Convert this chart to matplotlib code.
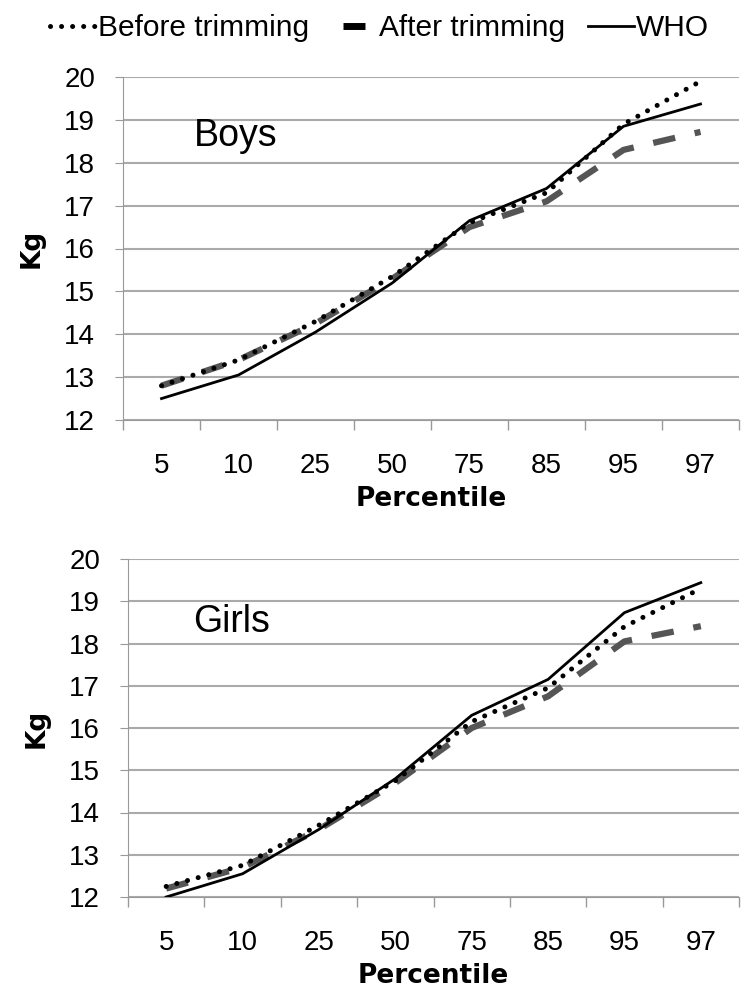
import matplotlib.pyplot as plt
from matplotlib.lines import Line2D

# Percentile categories
percentiles = ['5', '10', '25', '50', '75', '85', '95', '97']

# Boys weight (kg)
boys_before = [12.8, 13.4, 14.3, 15.35, 16.6, 17.3, 18.9, 19.9]
boys_after = [12.8, 13.4, 14.25, 15.3, 16.5, 17.1, 18.3, 18.72]
boys_who = [12.5, 13.05, 14.05, 15.2, 16.65, 17.4, 18.85, 19.37]

# Girls weight (kg)
girls_before = [12.25, 12.75, 13.7, 14.75, 16.15, 16.95, 18.4, 19.3]
girls_after = [12.2, 12.7, 13.6, 14.7, 16.0, 16.75, 18.05, 18.41]
girls_who = [12.0, 12.55, 13.6, 14.8, 16.3, 17.15, 18.73, 19.44]

plt.rcParams['font.family'] = ['Liberation Sans', 'DejaVu Sans']

fig = plt.figure(figsize=(7.56, 10.06), dpi=100)
ax1 = fig.add_axes([123/756, 1-420/1006, 616/756, 343/1006])
ax2 = fig.add_axes([128/756, 1-897/1006, 611/756, 338/1006])


def draw(ax, before, after, who, label, lx, ly):
    x = range(len(percentiles))
    ax.plot(x, after, color='#555555', lw=4.5, dashes=(3.6, 3.2), zorder=3)
    ax.plot(x, before, color='black', lw=3.6, dashes=(0.01, 2.2),
            dash_capstyle='round', zorder=4)
    ax.plot(x, who, color='black', lw=2, zorder=5)
    ax.set_xlim(-0.5, len(percentiles) - 0.5)
    ax.set_ylim(12, 20)
    ax.set_yticks(range(12, 21))
    ax.set_xticks(x)
    ax.set_xticklabels(percentiles)
    ax.set_xticks([i - 0.5 for i in range(len(percentiles) + 1)], minor=True)
    ax.tick_params(axis='x', which='major', length=0, pad=24, labelsize=20)
    ax.tick_params(axis='x', which='minor', length=7, color='#999999', width=1)
    ax.tick_params(axis='y', length=6, color='#999999', labelsize=20, pad=14)
    ax.yaxis.grid(True, color='#aaaaaa', lw=1.5)
    ax.set_axisbelow(True)
    for s in ['top', 'right']:
        ax.spines[s].set_visible(False)
    ax.spines['left'].set_color('#999999')
    ax.spines['bottom'].set_color('#999999')
    ax.set_ylabel('Kg', fontsize=19, fontweight='bold', family='DejaVu Sans', labelpad=14)
    ax.set_xlabel('Percentile', fontsize=19, fontweight='bold', family='DejaVu Sans', labelpad=5)
    ax.text(lx, ly, label, transform=ax.transAxes, fontsize=27, va='center')


draw(ax1, boys_before, boys_after, boys_who, 'Boys', 0.115, 0.828)
draw(ax2, girls_before, girls_after, girls_who, 'Girls', 0.106, 0.815)

handles = [
    Line2D([], [], color='black', lw=3.6, dashes=(0.01, 2.2), dash_capstyle='round'),
    Line2D([], [], color='black', lw=0, marker='_', markersize=16, markeredgewidth=5),
    Line2D([], [], color='black', lw=2),
]
fig.legend(handles, ['Before trimming', 'After trimming', 'WHO'],
           loc='center left', bbox_to_anchor=(50/756, 1-28/1006), ncol=3,
           frameon=False, borderpad=0, borderaxespad=0,
           fontsize=21.5, handlelength=1.54, handletextpad=0.07, columnspacing=0.74)
fig.savefig('out.png', dpi=100)
